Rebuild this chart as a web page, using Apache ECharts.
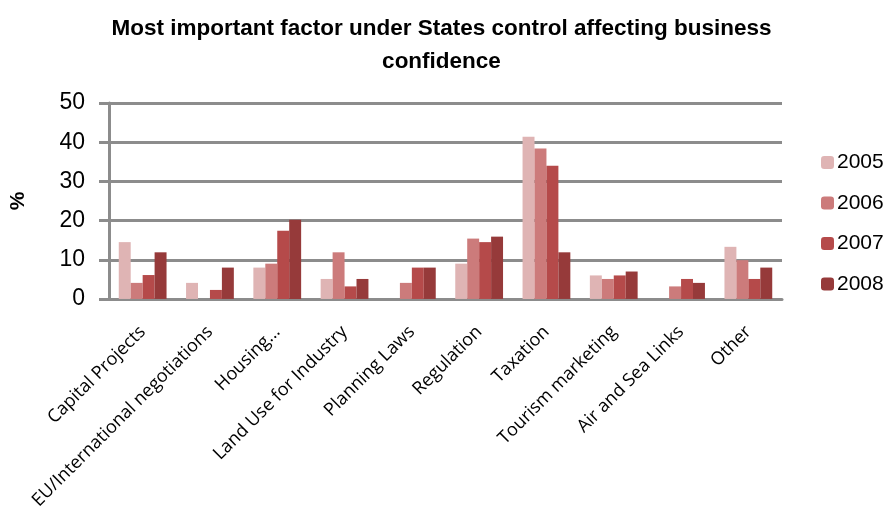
<!DOCTYPE html>
<html><head><meta charset="utf-8">
<script src="https://cdn.jsdelivr.net/npm/echarts@6/dist/echarts.min.js"></script>
<style>html,body{margin:0;padding:0;background:#fff}#c{width:883px;height:512px}</style>
</head><body><div id="c"></div>
<script>
const categories = ["Capital Projects","EU/International negotiations","Housing...","Land Use for Industry","Planning Laws","Regulation","Taxation","Tourism marketing","Air and Sea Links","Other"];
const years = ["2005","2006","2007","2008"];
const v2005 = [14.5, 4.1, 8.0, 5.1, 0, 9.0, 41.4, 6.0, 0, 13.3];
const v2006 = [4.1, 0, 9.0, 11.9, 4.1, 15.4, 38.4, 5.1, 3.2, 9.9];
const v2007 = [6.1, 2.3, 17.4, 3.2, 8.0, 14.5, 34.0, 6.0, 5.1, 5.1];
const v2008 = [11.9, 8.0, 20.2, 5.1, 8.0, 15.9, 11.9, 7.0, 4.1, 8.0];
const yTicks = [0, 10, 20, 30, 40, 50];
const colors = ["#DFB4B4", "#CC7B7B", "#B54A4A", "#963A3A"];
const values = [v2005, v2006, v2007, v2008];

const chart = echarts.init(document.getElementById('c'));
chart.setOption({
  animation: false,
  title: {
    text: "Most important factor under States control affecting business\nconfidence",
    left: 'center', top: 7,
    textStyle: {fontFamily: 'Liberation Sans', fontWeight: 'bold', fontSize: 22.5, color: '#000', lineHeight: 33}
  },
  legend: {
    orient: 'vertical', left: 816, top: 147,
    itemWidth: 13, itemHeight: 13, itemGap: 19.5,
    data: years,
    textStyle: {fontFamily: 'Liberation Sans', fontSize: 21, color: '#000', padding: [0,0,0,-2]}
  },
  grid: {left: 105, right: 101, top: 103, bottom: 210},
  xAxis: {
    type: 'category', data: categories,
    axisLine: {lineStyle: {color: '#8c8c8c', width: 3}},
    axisTick: {show: false},
    axisLabel: {rotate: 45, interval: 0, margin: 30, fontFamily: 'Open Sans', fontSize: 18, color: '#000'}
  },
  yAxis: {
    type: 'value', min: yTicks[0], max: yTicks[yTicks.length-1], interval: 10,
    name: '%', nameLocation: 'middle', nameGap: 80,
    nameTextStyle: {fontFamily: 'Liberation Sans', fontWeight: 'bold', fontSize: 21, color: '#000'},
    axisLine: {show: true, lineStyle: {color: '#8c8c8c', width: 3}},
    axisTick: {show: true, length: 10, lineStyle: {color: '#8c8c8c', width: 3}},
    axisLabel: {fontFamily: 'Liberation Sans', fontSize: 23, color: '#000', margin: 24},
    splitLine: {lineStyle: {color: '#8c8c8c', width: 3}}
  },
  series: years.map((y, i) => ({
    name: y, type: 'bar', data: values[i],
    barGap: '0%', barCategoryGap: '29%',
    itemStyle: {color: colors[i]}
  }))
});
</script></body></html>
